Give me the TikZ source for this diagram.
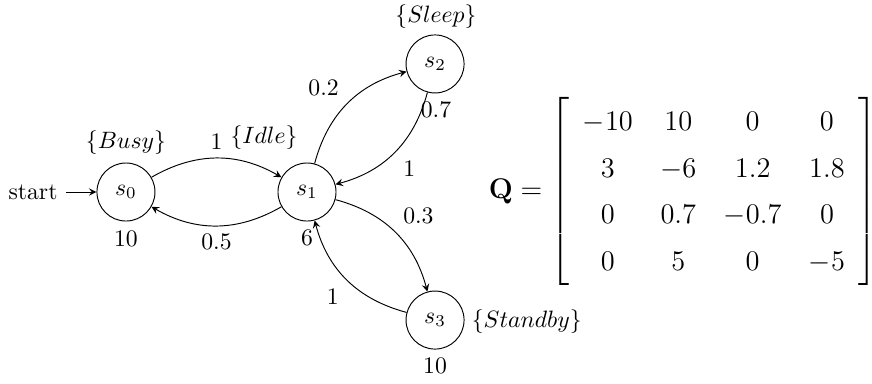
\documentclass[tikz,border=0pt]{standalone}
\usepackage{amsmath,amssymb,amsfonts}
\usetikzlibrary{automata,arrows}

\begin{document}
\begin{tikzpicture}[>=stealth, every state/.style={minimum size=24.5pt, inner sep=0pt}]
        \useasboundingbox (-4.555,-2.834) rectangle (8.383,2.849);

            \node[state,initial,initial text=start] (s0) at (-2.686,0) {\(s_0\)};
            \node[state] (s1) at (0,0) {\(s_1\)};
            \node[state] (s2) at (1.9,1.9) {\(s_2\)};
            \node[state] (s3) at (1.9,-1.9) {\(s_3\)};

            \node (busy) at (-2.686,0.727) {\(\{Busy\}\)};
            \node (idle) at (-0.638,0.801) {\(\{Idle\}\)};
            \node (sleep) at (1.914,2.6) {\(\{Sleep\}\)};
            \node (standby) at (3.26,-1.92) {\(\{Standby\}\)};

            \node (r0) at (-2.686,-0.70) {10};
            \node (r1) at (0,-0.68) {6};
            \node (r2) at (1.914,1.217) {0.7};
            \node (r3) at (1.9,-2.58) {10};

            \node[anchor=west, inner sep=0pt] (Q) at (2.69,0.01) {\large\renewcommand{\arraystretch}{1.4}\setlength{\arraycolsep}{5.8pt}%
                \(\mathbf{Q} = \left[\begin{array}{cccc}
                    -10 & 10 & 0 & 0 \\
                    3 & -6 & 1.2 & 1.8 \\
                    0 & 0.7 & -0.7 & 0 \\
                    0 & 5 & 0 & -5
                \end{array}\right]\)};

            \path[->]
                (s0) edge[bend left] node[above] (p01) {1} (s1)
                (s1) edge[bend left] node[below] (p10) {0.5} (s0)
                (s1) edge[bend left] node[above left] (p12) {0.2} (s2)
                (s2) edge[bend left] node[below right] (p21) {1} (s1)
                (s1) edge[bend left] node[above right] (p13) {0.3} (s3)
                (s3) edge[bend left] node[below left] (p31) {1} (s1);

\end{tikzpicture}
\end{document}
